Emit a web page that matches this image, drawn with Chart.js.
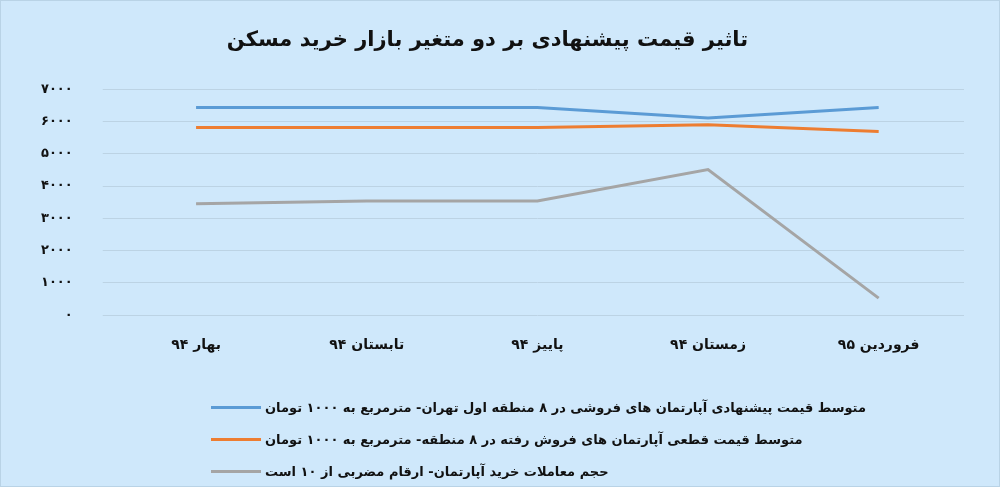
<!DOCTYPE html>
<html><head><meta charset="utf-8">
<script src="https://cdn.jsdelivr.net/npm/chart.js@4"></script>
<style>
html,body{margin:0;padding:0;background:#cfe8fb;}
#wrap{position:relative;width:1000px;height:487px;border:1px solid #b9d3e6;box-sizing:border-box;}
#legend{position:absolute;left:210px;top:390px;font-family:'DejaVu Sans','Noto Sans',sans-serif;font-weight:bold;font-size:13px;color:#111;}
#legend div{height:32px;display:flex;align-items:center;}
#legend span.sw{display:inline-block;width:50px;height:3px;margin-right:4px;}
</style></head><body>
<div id="wrap"><canvas id="c" width="998" height="485"></canvas><div id="legend"></div></div>
<script>
var labels = ['بهار ۹۴', 'تابستان ۹۴', 'پاییز ۹۴', 'زمستان ۹۴', 'فروردین ۹۵'];
var offered = [6430, 6430, 6430, 6110, 6430];
var sold = [5810, 5810, 5810, 5900, 5690];
var volume = [3450, 3540, 3540, 4510, 530];
var names = [
  'متوسط قیمت پیشنهادی آپارتمان های فروشی در ۸ منطقه اول تهران- مترمربع به ۱۰۰۰ تومان',
  'متوسط قیمت قطعی آپارتمان های فروش رفته در ۸ منطقه- مترمربع به ۱۰۰۰ تومان',
  'حجم معاملات خرید آپارتمان- ارقام مضربی از ۱۰ است'
];
var colors = ['#5b9bd5', '#ed7d31', '#a5a5a5'];
function fa(n){ return String(n).replace(/\d/g, function(d){ return '۰۱۲۳۴۵۶۷۸۹'[d]; }); }
var font = "'DejaVu Sans', 'Noto Sans', sans-serif";
function ds(i, data){
  return {label: names[i], data: data, borderColor: colors[i], backgroundColor: colors[i],
    borderWidth: 3, pointRadius: 0, tension: 0};
}
var chart = new Chart(document.getElementById('c'), {
  type: 'line',
  data: {labels: labels, datasets: [ds(0, offered), ds(1, sold), ds(2, volume)]},
  options: {
    responsive: false, animation: false,
    layout: {padding: {left: 10, right: 35, top: 5, bottom: 118}},
    scales: {
      x: {offset: true, grid: {display: false}, border: {display: false},
        ticks: {color: '#111', font: {family: font, size: 14, weight: 'bold'}, padding: 14}},
      y: {min: 0, max: 7000, border: {display: false},
        grid: {color: '#bcd3e4', lineWidth: 1},
        ticks: {stepSize: 1000, color: '#111', padding: 30,
          font: {family: font, size: 13, weight: 'bold'}, callback: function(v){ return fa(v); }}}
    },
    plugins: {
      title: {display: true, text: 'تاثیر قیمت پیشنهادی بر دو متغیر بازار خرید مسکن',
        color: '#111', font: {family: font, size: 21, weight: 'bold'}, padding: {top: 22, bottom: 36}},
      legend: {display: false},
      tooltip: {enabled: false}
    }
  }
});
var lg = document.getElementById('legend');
chart.data.datasets.forEach(function(d){
  var row = document.createElement('div');
  var sw = document.createElement('span'); sw.className = 'sw'; sw.style.background = d.borderColor;
  var tx = document.createElement('span'); tx.textContent = d.label; tx.dir = 'rtl';
  row.appendChild(sw); row.appendChild(tx); lg.appendChild(row);
});
</script></body></html>
